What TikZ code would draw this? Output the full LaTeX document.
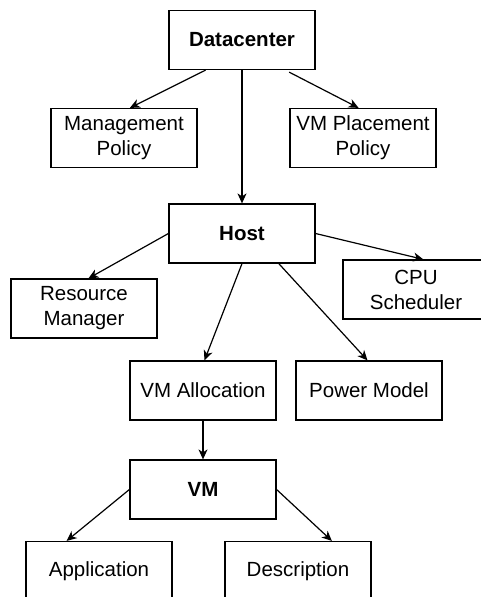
\documentclass[tikz,border=0pt]{standalone}
\usepackage{fontspec}
\setmainfont{Liberation Sans}
\usetikzlibrary{arrows.meta,calc}
\begin{document}
\begin{tikzpicture}[x=1pt,y=-1pt,
  box/.style={draw=black,line width=1.2pt,minimum width=146pt,minimum height=59pt,inner sep=0pt,align=center,font=\fontsize{20.5}{25}\selectfont},
  bbox/.style={box,font=\fontsize{20.5}{25}\selectfont\bfseries},
  arr/.style={line width=1.2pt,-{Stealth[length=10pt,width=9pt,inset=3pt]}}]
\useasboundingbox (0,0) rectangle (481,597);
\clip (0,0) rectangle (481,597);
\node[bbox] (dc) at (242,40) {Datacenter};
\node[box] (mp) at (124,138) {Management\\Policy};
\node[box] (vp) at (363,138) {VM Placement\\Policy};
\node[bbox] (host) at (242,233.5) {Host};
\node[box] (rm) at (84,308.5) {Resource\\Manager};
\node[box] (cpu) at (416,289.5) {CPU\\Scheduler};
\node[box] (va) at (203,390.5) {VM Allocation};
\node[box] (pm) at (369,390.5) {Power Model};
\node[bbox] (vm) at (203,489.5) {VM};
\node[box] (ap) at (99,571) {Application};
\node[box] (de) at (298,571) {Description};
\draw[arr] ($(dc.south west)!0.253!(dc.south east)$) -- ($(mp.north west)!0.54!(mp.north east)$);
\draw[arr] ($(dc.south west)!0.82!(dc.south east)+(0,2)$) -- ($(vp.north west)!0.47!(vp.north east)$);
\draw[arr] (dc.south) -- (host.north);
\draw[arr] (host.west) -- ($(rm.north west)!0.53!(rm.north east)$);
\draw[arr] (host.east) -- ($(cpu.north west)!0.55!(cpu.north east)$);
\draw[arr] (host.south) -- ($(va.north west)!0.51!(va.north east)$);
\draw[arr] ($(host.south west)!0.75!(host.south east)$) -- ($(pm.north west)!0.49!(pm.north east)$);
\draw[arr] (va.south) -- (vm.north);
\draw[arr] (vm.west) -- ($(ap.north west)!0.28!(ap.north east)$);
\draw[arr] (vm.east) -- ($(de.north west)!0.73!(de.north east)$);
\end{tikzpicture}
\end{document}
